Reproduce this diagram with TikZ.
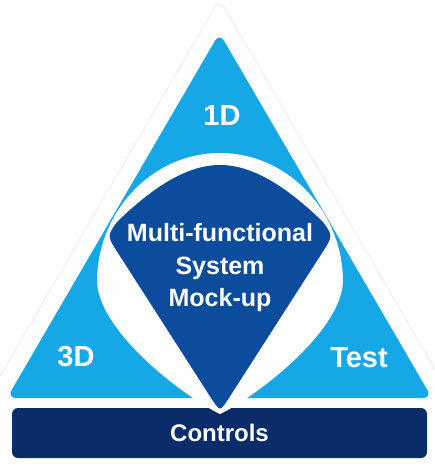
\documentclass[tikz,border=0pt]{standalone}
\usepackage{fontspec}
\setmainfont{Liberation Sans}
\usepackage{tikz}
\usetikzlibrary{positioning}
\usepackage{xcolor}
\definecolor{mockcyan}{RGB}{22,168,230}
\definecolor{mockblue}{RGB}{12,76,156}
\definecolor{mocknavy}{RGB}{10,44,104}
\tikzset{
  rim/.style={draw=black!9, line width=0.7pt, rounded corners=10pt},
  panel/.style={fill=mockcyan, rounded corners=9pt},
  kite/.style={fill=mockblue},
  bar/.style={fill=mocknavy, rounded corners=6pt, minimum width=415pt, minimum height=50pt, inner sep=0pt, text=white, font=\bfseries\fontsize{24}{28}\selectfont},
  biglabel/.style={text=white, inner sep=0pt, font=\bfseries\fontsize{29}{34}\selectfont},
  midlabel/.style={text=white, inner sep=0pt, align=center, font=\bfseries\fontsize{25}{32.5}\selectfont}
}

\begin{document}
\begin{tikzpicture}[x=1pt,y=-1pt]
\useasboundingbox[fill=white] (0,0) rectangle (434,470);
\draw[rim] (-5,385) -- (219.5,-1) -- (444,385);
\fill[panel] (219.5,33) -- (7,398) -- (432,398) -- cycle;
\node[bar] (controls) at (219.5,433) {Controls};
% white teardrop behind the mock-up
\fill[white] (220,414) .. controls (190,400) and (100,335) .. (97,282)
  .. controls (97,212) and (152,153) .. (220,153)
  .. controls (288,153) and (343,212) .. (343,282)
  .. controls (340,335) and (250,400) .. (220,414) -- cycle;
\fill[kite] (213,401) -- (118,253) .. controls (107,236) .. (117,222)
  .. controls (150,190) and (185,165) .. (220,165)
  .. controls (255,165) and (290,190) .. (323,222)
  .. controls (333,236) .. (322,253) -- (227,401)
  .. controls (220,411) .. (213,401) -- cycle;
\node[biglabel] (oneD) at (222,116) {1D};
\node[biglabel] (threeD) at (76,357) {3D};
\node[biglabel] (test) at (359,358) {Test};
\node[midlabel] (mockup) at (220,268) {Multi-functional\\System\\Mock-up};
\end{tikzpicture}
\end{document}
